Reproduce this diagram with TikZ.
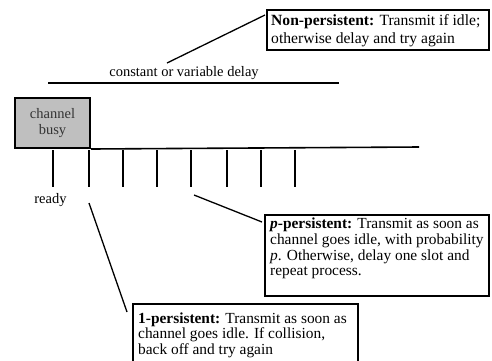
\documentclass[tikz,border=0pt]{standalone}
\usepackage{fontspec}
\setmainfont{Liberation Serif}
\begin{document}
\begin{tikzpicture}[x=1pt,y=-1pt,
  txt/.style={font=\fontsize{14.5}{15.5}\selectfont, inner sep=0pt},
  infotxt/.style={anchor=west, align=left, inner sep=0pt, font=\fontsize{15.4}{15.6}\selectfont},
  info/.style={draw, line width=2pt, anchor=north west, inner sep=0pt},
  busybox/.style={draw, line width=2pt, fill=black!25, anchor=north west, inner sep=0pt, text=black!80, align=center, font=\fontsize{14.5}{15.7}\selectfont},
  ln/.style={line width=1.6pt},
  lead/.style={line width=1.3pt}]
\useasboundingbox (0,0) rectangle (492,360);
% top info box
\node[info, minimum width=222pt, minimum height=40pt] (np) at (266,9) {};
\node[infotxt, font=\fontsize{15.6}{17.6}\selectfont] (nptext) at (271,30.5)
  {\textbf{Non-persistent:} Transmit if idle;\\otherwise delay and try again};
\coordinate (npfrom) at (167,63);
\coordinate (npto) at (265,15);
\draw[lead] (npfrom) -- (npto);
% delay
\node[txt] (delay) at (184,73.5) {constant or variable delay};
\coordinate (d1) at (48,83);
\coordinate (d2) at (339,83);
\draw[ln] (d1) -- (d2);
% channel busy
\node[busybox, minimum width=75pt, minimum height=50pt] (busy) at (14,97) {channel\\busy};
\coordinate (base) at (419,147);
\draw[ln] (busy.south east) -- (base);
% ticks
\foreach \x [count=\i] in {52.7,89,123,157,191,227,261,295}{
  \coordinate (t\i a) at (\x,150);
  \coordinate (t\i b) at (\x,187);
  \draw[ln] (t\i a) -- (t\i b);
}
\node[txt] (ready) at (50.5,200) {ready};
% p-persistent
\node[info, minimum width=224pt, minimum height=81pt] (pp) at (264,214) {};
\node[infotxt] (pptext) at (270,248.5)
  {\textbf{\textit{p}-persistent:} Transmit as soon as\\channel goes idle, with probability\\\textit{p}. Otherwise, delay one slot and\\repeat process.};
\coordinate (ppfrom) at (194,195);
\coordinate (ppto) at (262,222);
\draw[lead] (ppfrom) -- (ppto);
% 1-persistent
\node[info, minimum width=225pt, minimum height=60pt] (op) at (132,303) {};
\node[infotxt] (optext) at (138,335)
  {\textbf{1-persistent:} Transmit as soon as\\channel goes idle. If collision,\\back off and try again};
\coordinate (opfrom) at (89,203);
\coordinate (opto) at (127,312);
\draw[lead] (opfrom) -- (opto);
\end{tikzpicture}
\end{document}
